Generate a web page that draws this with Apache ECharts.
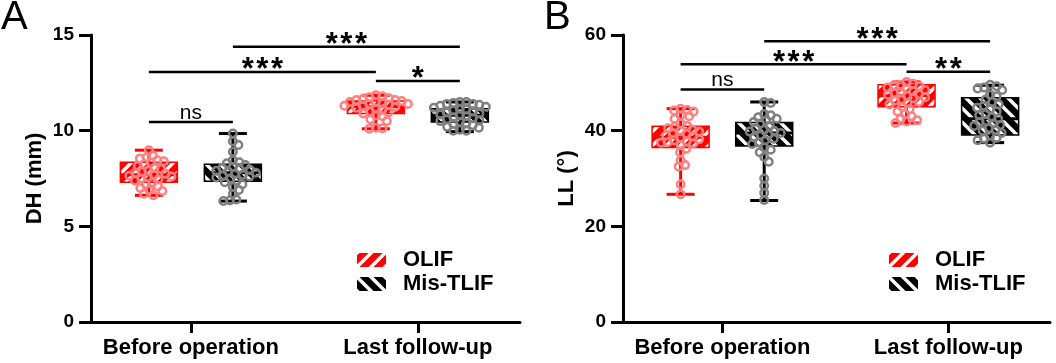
<!DOCTYPE html>
<html>
<head>
<meta charset="utf-8">
<script src="https://cdn.jsdelivr.net/npm/echarts@6/dist/echarts.min.js"></script>
<style>
html, body { margin: 0; padding: 0; background: #fff; }
#chart { width: 1056px; height: 363px; }
</style>
</head>
<body>
<div id="chart"></div>
<script>
var categories = ['Before operation', 'Last follow-up'];

// box stats per time point: [min, Q1, median, Q3, max]
var dhOlifBox = [[6.62, 7.3, 7.7, 8.35, 8.98], [10.1, 10.9, 11.25, 11.55, 11.85]];
var dhMisBox = [[6.32, 7.35, 7.8, 8.25, 9.85], [9.95, 10.45, 10.8, 11.15, 11.5]];
var llOlifBox = [[26.7, 36.5, 38.6, 40.9, 44.6], [41.6, 45.0, 47.3, 49.6, 50.2]];
var llMisBox = [[25.4, 36.8, 39.5, 41.7, 46.0], [37.5, 39.1, 42.5, 46.9, 49.5]];

// individual patients
var dhOlifBefore = [8.98, 8.7, 8.6, 8.55, 8.45, 8.4, 8.35, 8.25, 8.15, 8.05, 8.0, 7.9, 7.85, 7.8, 7.75,
    7.7, 7.65, 7.6, 7.55, 7.5, 7.45, 7.4, 7.3, 7.2, 7.1, 7.0, 6.9, 6.85, 6.7, 6.62];
var dhMisBefore = [9.85, 9.45, 9.25, 8.9, 8.45, 8.35, 8.3, 8.2, 8.1, 8.05, 8.0, 7.95, 7.9, 7.85, 7.8,
    7.75, 7.7, 7.65, 7.6, 7.55, 7.5, 7.4, 7.3, 7.2, 7.05, 6.9, 6.7, 6.4, 6.35, 6.32];
var dhOlifLast = [11.85, 11.8, 11.75, 11.7, 11.65, 11.6, 11.6, 11.55, 11.5, 11.5, 11.45, 11.4, 11.4, 11.35, 11.3,
    11.3, 11.25, 11.2, 11.15, 11.1, 11.0, 10.95, 10.9, 10.8, 10.75, 10.6, 10.5, 10.15, 10.12, 10.1];
var dhMisLast = [11.5, 11.5, 11.45, 11.4, 11.4, 11.35, 11.3, 11.25, 11.2, 11.15, 11.1, 11.05, 11.0, 10.95, 10.9, 10.85,
    10.8, 10.75, 10.7, 10.65, 10.6, 10.55, 10.5, 10.45, 10.4, 10.35, 10.3, 10.2, 10.15, 10.05, 10.0, 10.0];
var llOlifBefore = [44.6, 44.3, 44.2, 44.0, 43.2, 43.0, 42.5, 41.5, 41.0, 40.8, 40.5, 40.2, 40.0, 39.8, 39.5, 39.3,
    39.0, 38.8, 38.5, 38.2, 38.0, 37.8, 37.6, 37.5, 37.3, 37.0, 36.2, 35.5, 33.8, 32.8, 32.5, 28.8, 26.7];
var llMisBefore = [46.0, 45.8, 43.5, 43.2, 42.8, 42.5, 42.2, 41.8, 41.5, 41.0, 40.5, 40.2, 40.0, 39.8, 39.5, 39.2,
    39.0, 38.6, 38.3, 38.0, 37.6, 37.2, 36.5, 36.0, 35.5, 34.5, 33.5, 30.0, 28.5, 27.0, 25.5];
var llOlifLast = [50.2, 49.8, 49.6, 49.5, 49.3, 49.0, 48.8, 48.5, 48.3, 48.0, 47.8, 47.6, 47.5, 47.3, 47.0,
    46.8, 46.5, 46.3, 46.0, 45.8, 45.5, 45.0, 44.5, 44.0, 43.5, 43.0, 42.5, 42.2, 41.9, 41.6];
var llMisLast = [49.6, 49.3, 49.0, 48.8, 48.5, 47.5, 47.2, 46.5, 46.0, 45.5, 45.2, 44.8, 44.5, 44.0, 43.5, 43.2,
    42.8, 42.5, 42.0, 41.8, 41.5, 41.2, 41.0, 40.5, 40.2, 40.0, 39.5, 39.0, 38.5, 38.3, 38.0, 37.5];

// significance: [from box, to box, y, label]; boxes 0 OLIF-before, 1 Mis-before, 2 OLIF-last, 3 Mis-last
var dhSig = [[0, 1, 10.45, 'ns'], [0, 2, 13.07, '***'], [2, 3, 12.6, '*'], [1, 3, 14.38, '***']];
var llSig = [[0, 1, 48.6, 'ns'], [0, 2, 53.9, '***'], [2, 3, 52.3, '**'], [1, 3, 58.7, '***']];

var FONT = '"Liberation Sans", Arial, sans-serif';
var X_MIN = 0.56, X_MAX = 2.45, OFF = 0.185;
var boxX = [1 - OFF, 1 + OFF, 2 - OFF, 2 + OFF];
var GRID_TOP = 35, GRID_H = 287;

function makeHatch(base, dir) {
    var s = 14;
    var c = document.createElement('canvas');
    c.width = s; c.height = s;
    var g = c.getContext('2d');
    g.fillStyle = base;
    g.fillRect(0, 0, s, s);
    g.strokeStyle = '#fff';
    g.lineWidth = 3.5;
    g.beginPath();
    if (dir > 0) {
        g.moveTo(-4, s + 4); g.lineTo(s + 4, -4);
        g.moveTo(-4, 4); g.lineTo(4, -4);
        g.moveTo(s - 4, s + 4); g.lineTo(s + 4, s - 4);
    } else {
        g.moveTo(-4, -4); g.lineTo(s + 4, s + 4);
        g.moveTo(s - 4, -4); g.lineTo(s + 4, 4);
        g.moveTo(-4, s - 4); g.lineTo(4, s + 4);
    }
    g.stroke();
    return { image: c, repeat: 'repeat' };
}

var redHatch = makeHatch('#ff0000', 1);
var blackHatch = makeHatch('#000000', -1);

// spread overlapping dots sideways (dot plot layout), result in px offsets
function swarm(values, pxY, d) {
    var placed = [];
    return values.map(function (v) {
        var y = v * pxY;
        var x = 0;
        for (var k = 0; k < 400; k++) {
            var cand = k === 0 ? 0 : (k % 2 ? 1 : -1) * Math.ceil(k / 2) * 0.5;
            var ok = true;
            for (var j = 0; j < placed.length; j++) {
                var dx = placed[j][0] - cand, dy = placed[j][1] - y;
                if (dx * dx + dy * dy < d * d) { ok = false; break; }
            }
            if (ok) { x = cand; break; }
        }
        placed.push([x, y]);
        return x;
    });
}

function boxSeries(grid, name, stats, offset, lineColor, fill) {
    return {
        name: name,
        type: 'custom',
        xAxisIndex: grid,
        yAxisIndex: grid,
        z: 2,
        silent: true,
        itemStyle: { color: fill },
        data: stats.map(function (s, i) { return [i + 1 + offset].concat(s); }),
        encode: { x: 0, y: [1, 2, 3, 4, 5] },
        renderItem: function (params, api) {
            var x = api.value(0);
            var lo = api.coord([x, api.value(1)]);
            var q1 = api.coord([x, api.value(2)]);
            var md = api.coord([x, api.value(3)]);
            var q3 = api.coord([x, api.value(4)]);
            var hi = api.coord([x, api.value(5)]);
            var cx = lo[0], hw = 28.5, cw = 14;
            var ls = { stroke: lineColor, lineWidth: 3 };
            return {
                type: 'group',
                children: [
                    { type: 'line', shape: { x1: cx, y1: lo[1], x2: cx, y2: hi[1] }, style: ls },
                    { type: 'line', shape: { x1: cx - cw, y1: lo[1], x2: cx + cw, y2: lo[1] }, style: ls },
                    { type: 'line', shape: { x1: cx - cw, y1: hi[1], x2: cx + cw, y2: hi[1] }, style: ls },
                    { type: 'rect', shape: { x: cx - hw, y: q3[1], width: hw * 2, height: q1[1] - q3[1] },
                      style: { fill: fill, stroke: lineColor, lineWidth: 1.5 } },
                    { type: 'line', shape: { x1: cx - hw, y1: md[1], x2: cx + hw, y2: md[1] }, style: ls }
                ]
            };
        }
    };
}

function dotSeries(grid, name, lists, offset, color, pxX, pxY) {
    var data = [];
    lists.forEach(function (vals, i) {
        var dx = swarm(vals, pxY, 6.5);
        vals.forEach(function (v, k) {
            data.push([i + 1 + offset + dx[k] / pxX, v]);
        });
    });
    return {
        name: name,
        type: 'scatter',
        xAxisIndex: grid,
        yAxisIndex: grid,
        z: 3,
        silent: true,
        symbol: 'circle',
        symbolSize: 7.5,
        itemStyle: { color: 'rgba(255,255,255,0)', borderColor: color, borderWidth: 2.5, opacity: 1 },
        data: data
    };
}

function sigSeries(grid, sig) {
    return {
        type: 'custom',
        xAxisIndex: grid,
        yAxisIndex: grid,
        z: 5,
        silent: true,
        data: sig.map(function (s) { return [boxX[s[0]], boxX[s[1]], s[2]]; }),
        encode: { x: [0, 1], y: 2 },
        renderItem: function (params, api) {
            var a = api.coord([api.value(0), api.value(2)]);
            var b = api.coord([api.value(1), api.value(2)]);
            var label = sig[params.dataIndex][3];
            var ns = label === 'ns';
            return {
                type: 'group',
                children: [
                    { type: 'line', shape: { x1: a[0], y1: a[1], x2: b[0], y2: b[1] },
                      style: { stroke: '#000', lineWidth: 2.5 } },
                    { type: 'text', x: (a[0] + b[0]) / 2, y: a[1] - (ns ? 9 : 1),
                      style: {
                          text: ns ? label : label.split('').join('\u200A'),
                          fill: '#000',
                          font: ns ? '21px ' + FONT : 'bold 31px ' + FONT,
                          align: 'center',
                          verticalAlign: 'middle'
                      } }
                ]
            };
        }
    };
}

function xAxis(grid) {
    return {
        type: 'value',
        gridIndex: grid,
        min: X_MIN,
        max: X_MAX,
        splitLine: { show: false },
        axisLine: { show: true, onZero: false, lineStyle: { color: '#000', width: 3 } },
        axisTick: { show: true, customValues: [1, 2], length: 11, lineStyle: { color: '#000', width: 3 } },
        axisLabel: {
            customValues: [1, 2],
            margin: 15,
            color: '#000',
            fontSize: 22,
            fontWeight: 'bold',
            fontFamily: FONT,
            formatter: function (v) { return categories[Math.round(v) - 1]; }
        }
    };
}

function yAxis(grid, name, max, interval) {
    return {
        type: 'value',
        gridIndex: grid,
        min: 0,
        max: max,
        interval: interval,
        name: name,
        nameLocation: 'middle',
        nameGap: 45,
        nameTextStyle: { color: '#000', fontSize: 22, fontWeight: 'bold', fontFamily: FONT },
        splitLine: { show: false },
        axisLine: { show: true, lineStyle: { color: '#000', width: 3 } },
        axisTick: { show: true, length: 12, lineStyle: { color: '#000', width: 3 } },
        axisLabel: { margin: 17, color: '#000', fontSize: 19, fontWeight: 'bold', fontFamily: FONT }
    };
}

function legend(left) {
    return {
        left: left,
        top: 249,
        orient: 'vertical',
        padding: 0,
        itemWidth: 29,
        itemHeight: 14,
        itemGap: 2,
        selectedMode: false,
        data: [
            { name: 'OLIF', icon: 'rect', itemStyle: { color: redHatch, borderWidth: 0 } },
            { name: 'Mis-TLIF', icon: 'rect', itemStyle: { color: blackHatch, borderWidth: 0 } }
        ],
        textStyle: { color: '#000', fontSize: 22, fontWeight: 'bold', fontFamily: FONT, padding: [0, 0, 0, 12] }
    };
}

var chart = echarts.init(document.getElementById('chart'));

var gridA = { left: 91, top: GRID_TOP, width: 429, height: GRID_H };
var gridB = { left: 623, top: GRID_TOP, width: 427, height: GRID_H };
var pxXA = gridA.width / (X_MAX - X_MIN), pxXB = gridB.width / (X_MAX - X_MIN);
var pxYA = GRID_H / 15, pxYB = GRID_H / 60;

var option = {
    animation: false,
    backgroundColor: '#fff',
    grid: [gridA, gridB],
    xAxis: [xAxis(0), xAxis(1)],
    yAxis: [yAxis(0, 'DH (mm)', 15, 5), yAxis(1, 'LL (°)', 60, 20)],
    legend: [legend(357), legend(889)],
    graphic: [
        { type: 'text', left: 1, top: -2, style: { text: 'A', fill: '#000', font: '40px ' + FONT } },
        { type: 'text', left: 544, top: -2, style: { text: 'B', fill: '#000', font: '40px ' + FONT } }
    ],
    series: [
        boxSeries(0, 'OLIF', dhOlifBox, -OFF, '#ff0000', redHatch),
        boxSeries(0, 'Mis-TLIF', dhMisBox, OFF, '#000000', blackHatch),
        dotSeries(0, 'OLIF', [dhOlifBefore, dhOlifLast], -OFF, '#ff8080', pxXA, pxYA),
        dotSeries(0, 'Mis-TLIF', [dhMisBefore, dhMisLast], OFF, '#808080', pxXA, pxYA),
        sigSeries(0, dhSig),
        boxSeries(1, 'OLIF', llOlifBox, -OFF, '#ff0000', redHatch),
        boxSeries(1, 'Mis-TLIF', llMisBox, OFF, '#000000', blackHatch),
        dotSeries(1, 'OLIF', [llOlifBefore, llOlifLast], -OFF, '#ff8080', pxXB, pxYB),
        dotSeries(1, 'Mis-TLIF', [llMisBefore, llMisLast], OFF, '#808080', pxXB, pxYB),
        sigSeries(1, llSig)
    ]
};

chart.setOption(option);
</script>
</body>
</html>
